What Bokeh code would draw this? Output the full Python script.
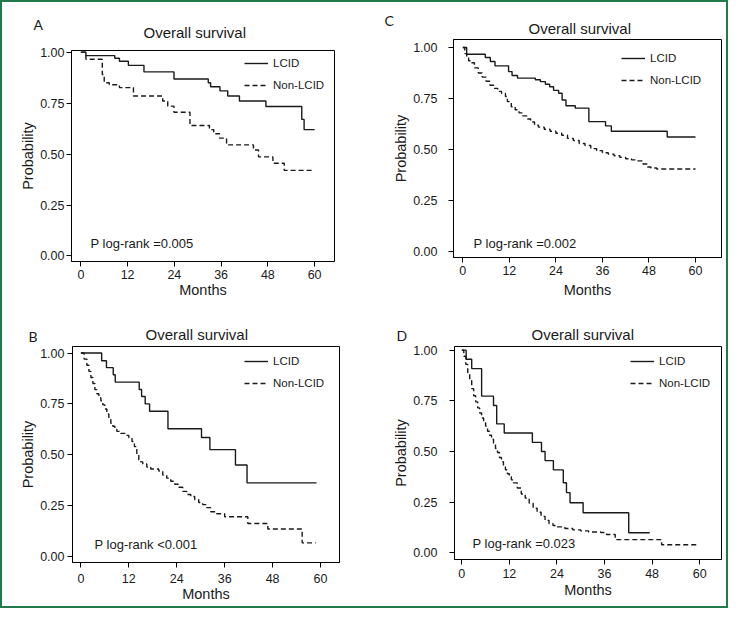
from bokeh.plotting import figure
from bokeh.layouts import column, row
from bokeh.models import Label, Legend, LegendItem, FixedTicker, NumeralTickFormatter, Range1d
from bokeh.embed import file_html
from bokeh.resources import INLINE

# ---------------- data ----------------
MONTH_TICKS = [0, 12, 24, 36, 48, 60]
PROB_TICKS = [0.0, 0.25, 0.50, 0.75, 1.00]
SERIES = ["LCID", "Non-LCID"]
TITLE = "Overall survival"
X_LABEL = "Months"
Y_LABEL = "Probability"

# Panel A
A_lcid_t = [0, 1.3, 8.7, 9.9, 12.2, 16.2, 23.9, 32.7, 33.3, 35.7, 37.7, 40.7, 47.5, 56.7, 57.3, 60]
A_lcid_s = [1.0, 0.983, 0.97, 0.955, 0.935, 0.903, 0.868, 0.85, 0.83, 0.81, 0.785, 0.76, 0.733, 0.67, 0.62, 0.62]
A_non_t = [0, 1.3, 5.5, 6.0, 7.3, 9.9, 13.5, 21.0, 22.3, 23.9, 28.0, 33.0, 34.1, 35.6, 37.4, 44.3, 45.6, 49.3, 52.2, 60]
A_non_s = [1.0, 0.965, 0.89, 0.85, 0.84, 0.826, 0.785, 0.76, 0.735, 0.705, 0.64, 0.62, 0.60, 0.578, 0.545, 0.52, 0.486, 0.455, 0.42, 0.42]
A_p = "P log-rank =0.005"

# Panel C
C_lcid_t = [0, 1.0, 5.8, 7.1, 8.3, 11.8, 12.7, 14.1, 18.7, 20.0, 21.3, 22.4, 23.4, 24.7, 25.6, 26.6, 29.0, 32.5, 36.8, 38.3, 52.7, 60]
C_lcid_s = [1.0, 0.967, 0.951, 0.931, 0.91, 0.882, 0.863, 0.85, 0.842, 0.833, 0.82, 0.808, 0.79, 0.776, 0.743, 0.715, 0.703, 0.637, 0.616, 0.59, 0.562, 0.562]
C_non_t = [0, 0.5, 1.0, 1.5, 2.0, 3.0, 4.0, 5.0, 6.0, 7.0, 8.0, 9.0, 10.0, 11.0, 11.5, 12.5, 13.5, 14.5, 15.5, 16.5,
           17.5, 18.5, 19.5, 21.0, 22.5, 24.0, 25.5, 27.0, 28.5, 30.0, 31.5, 33.0, 34.5, 36.0, 37.5, 39.0, 40.5,
           42.0, 43.5, 45.0, 46.5, 47.5, 48.5, 50.0, 60]
C_non_s = [1.0, 0.97, 0.95, 0.935, 0.925, 0.9, 0.875, 0.855, 0.835, 0.815, 0.8, 0.785, 0.775, 0.76, 0.735, 0.71,
           0.695, 0.68, 0.665, 0.65, 0.635, 0.62, 0.61, 0.6, 0.59, 0.58, 0.57, 0.555, 0.545, 0.53, 0.52, 0.505,
           0.495, 0.485, 0.478, 0.47, 0.462, 0.455, 0.45, 0.445, 0.43, 0.415, 0.41, 0.405, 0.405]
C_p = "P log-rank =0.002"

# Panel B
B_lcid_t = [0, 5.2, 6.4, 8.1, 8.6, 14.6, 15.2, 16.1, 17.2, 21.8, 30.2, 32.3, 38.7, 41.6, 59]
B_lcid_s = [1.0, 0.962, 0.928, 0.893, 0.857, 0.821, 0.786, 0.75, 0.714, 0.628, 0.585, 0.525, 0.45, 0.362, 0.362]
B_non_t = [0, 0.8, 1.5, 2.0, 2.5, 3.0, 3.5, 4.0, 4.5, 5.0, 5.5, 6.0, 6.5, 7.0, 7.5, 8.0, 8.5, 9.0, 10.0, 11.0,
           12.0, 12.8, 13.4, 14.0, 14.5, 15.0, 15.5, 16.5, 17.5, 19.5, 20.5, 21.5, 22.5, 23.5, 24.5, 25.5, 26.5,
           27.5, 28.5, 29.5, 30.5, 31.5, 32.5, 34.0, 36.0, 41.8, 46.8, 55.4, 58.8]
B_non_s = [1.0, 0.97, 0.94, 0.91, 0.88, 0.85, 0.82, 0.8, 0.78, 0.765, 0.745, 0.725, 0.7, 0.675, 0.655, 0.64,
           0.625, 0.615, 0.605, 0.595, 0.585, 0.565, 0.54, 0.5, 0.475, 0.465, 0.455, 0.44, 0.43, 0.42, 0.4,
           0.385, 0.37, 0.355, 0.34, 0.32, 0.305, 0.295, 0.28, 0.265, 0.255, 0.24, 0.22, 0.21, 0.195, 0.162,
           0.135, 0.067, 0.067]
B_p = "P log-rank <0.001"

# Panel D
D_lcid_t = [0, 1.1, 2.5, 5.0, 8.0, 8.8, 10.7, 17.8, 20.1, 21.0, 23.1, 25.6, 26.4, 27.3, 30.6, 42.1, 47.4]
D_lcid_s = [1.0, 0.955, 0.909, 0.773, 0.727, 0.636, 0.591, 0.545, 0.5, 0.455, 0.409, 0.346, 0.297, 0.247, 0.198, 0.099, 0.099]
D_non_t = [0, 0.5, 1.0, 1.5, 2.0, 2.5, 3.0, 3.5, 4.0, 4.5, 5.0, 5.5, 6.0, 6.5, 7.0, 7.5, 8.0, 8.5, 9.0, 9.5,
           10.0, 10.5, 11.0, 11.5, 12.0, 12.5, 13.0, 14.0, 15.0, 16.0, 17.0, 18.0, 19.0, 20.0, 21.0, 22.0,
           23.0, 24.0, 26.0, 28.0, 30.0, 32.0, 35.0, 36.5, 38.7, 50.4, 59.3]
D_non_s = [1.0, 0.97, 0.93, 0.89, 0.85, 0.81, 0.775, 0.745, 0.715, 0.69, 0.665, 0.645, 0.625, 0.6, 0.58, 0.56,
           0.54, 0.515, 0.495, 0.47, 0.45, 0.43, 0.41, 0.39, 0.375, 0.36, 0.345, 0.32, 0.29, 0.27, 0.245, 0.22,
           0.2, 0.18, 0.16, 0.145, 0.135, 0.128, 0.12, 0.113, 0.108, 0.103, 0.1, 0.09, 0.065, 0.04, 0.04]
D_p = "P log-rank =0.023"

# ---------------- styling ----------------
FONT = "Liberation Sans"
LETTER_FONT = "Lato"
INK = "#1a1a1a"
GREEN = "#217a4c"
W, H = 362, 302


def make_panel(letter, pval, lt, ls, nt, ns, cfg):
    p = figure(width=W, height=H, output_backend="svg", toolbar_location=None,
               x_range=Range1d(*cfg["xr"]), y_range=Range1d(*cfg["yr"]),
               min_border_left=cfg["mb"][0], min_border_right=cfg["mb"][1],
               min_border_top=cfg["mb"][2], min_border_bottom=cfg["mb"][3])
    p.frame_align = False
    p.xgrid.visible = False
    p.ygrid.visible = False
    p.outline_line_color = "black"
    p.outline_line_width = 1
    p.outline_line_alpha = 1
    p.background_fill_color = "white"
    p.border_fill_color = "white"

    r1 = p.step(lt, ls, mode="after", line_color=INK, line_width=1.4)
    r2 = p.step(nt, ns, mode="after", line_color=INK, line_width=1.4, line_dash="5 3")

    p.xaxis.ticker = FixedTicker(ticks=MONTH_TICKS)
    p.yaxis.ticker = FixedTicker(ticks=PROB_TICKS)
    p.yaxis.formatter = NumeralTickFormatter(format="0.00")
    p.xaxis.axis_label = X_LABEL
    p.yaxis.axis_label = Y_LABEL
    for ax in (p.xaxis[0], p.yaxis[0]):
        ax.axis_line_color = "black"
        ax.axis_line_width = 1
        ax.major_tick_line_color = "black"
        ax.major_tick_out = 5
        ax.major_tick_in = 0
        ax.minor_tick_line_color = None
        ax.major_label_text_font = FONT
        ax.major_label_text_font_size = "12.5px"
        ax.major_label_text_color = INK
        ax.axis_label_text_font = FONT
        ax.axis_label_text_font_size = "14.5px"
        ax.axis_label_text_font_style = "normal"
        ax.axis_label_text_color = INK
    p.xaxis[0].major_label_standoff = cfg["xts"]
    p.yaxis[0].major_label_standoff = cfg["yts"]
    p.xaxis[0].axis_label_standoff = cfg["xls"]
    p.yaxis[0].axis_label_standoff = 1

    legend = Legend(items=[LegendItem(label=SERIES[0], renderers=[r1]),
                           LegendItem(label=SERIES[1], renderers=[r2])],
                    location=cfg["leg"], orientation="vertical",
                    glyph_width=24, glyph_height=14, label_height=14, spacing=8,
                    padding=0, margin=0, label_standoff=5,
                    border_line_color=None, background_fill_alpha=0,
                    label_text_font=FONT, label_text_font_size="11.5px",
                    label_text_color=INK)
    p.add_layout(legend)

    p.add_layout(Label(x=cfg["pv"][0], y=cfg["pv"][1], x_units="screen", y_units="screen",
                       text=pval, text_font=FONT, text_font_size="13px",
                       text_color=INK, text_baseline="alphabetic"))
    # title and panel letter live in panels above the frame (not clipped)
    p.add_layout(Label(x=cfg["ti"][0], y=cfg["ti"][1], x_units="screen", y_units="screen",
                       text=TITLE, text_font=FONT, text_font_size="15px",
                       text_color=INK, text_baseline="alphabetic"), "above")
    p.add_layout(Label(x=cfg["le"][0], y=cfg["le"][1], x_units="screen", y_units="screen",
                       text=letter, text_font=LETTER_FONT, text_font_size="14px",
                       text_color=INK, text_baseline="alphabetic"), "above")
    return p


cfgA = dict(mb=(69, 30, 48, 43), xr=(-2.4, 65.1), yr=(-0.027, 1.008), xts=3, yts=2, xls=0,
            leg=(173, 169), pv=(19, 18), ti=(72, 18.3), le=(-38, 9.5))
cfgC = dict(mb=(89, 5, 37, 47), xr=(-2.4, 66.7), yr=(-0.028, 1.039), xts=3, yts=11, xls=4,
            leg=(168, 170), pv=(20, 14.5), ti=(75, 10.6), le=(-69, 1.8))
cfgB = dict(mb=(70, 25, 42, 44), xr=(-2.1, 64.75), yr=(-0.0295, 1.032), xts=6, yts=3, xls=0,
            leg=(172, 172), pv=(22, 18), ti=(73, 12.3), le=(-44, -6.5))
cfgD = dict(mb=(90, 5, 42, 47), xr=(-1.84, 65.5), yr=(-0.033, 1.018), xts=4, yts=12, xls=1,
            leg=(176, 169), pv=(18, 16.5), ti=(77, 11.6), le=(-58, -5.5))

pA = make_panel("A", A_p, A_lcid_t, A_lcid_s, A_non_t, A_non_s, cfgA)
pC = make_panel("C", C_p, C_lcid_t, C_lcid_s, C_non_t, C_non_s, cfgC)
pB = make_panel("B", B_p, B_lcid_t, B_lcid_s, B_non_t, B_non_s, cfgB)
pD = make_panel("D", D_p, D_lcid_t, D_lcid_s, D_non_t, D_non_s, cfgD)

layout = column(row(pA, pC), row(pB, pD),
                styles={"border": "2px solid " + GREEN, "background-color": "white"})

open("out.html", "w").write(file_html(layout, INLINE))
